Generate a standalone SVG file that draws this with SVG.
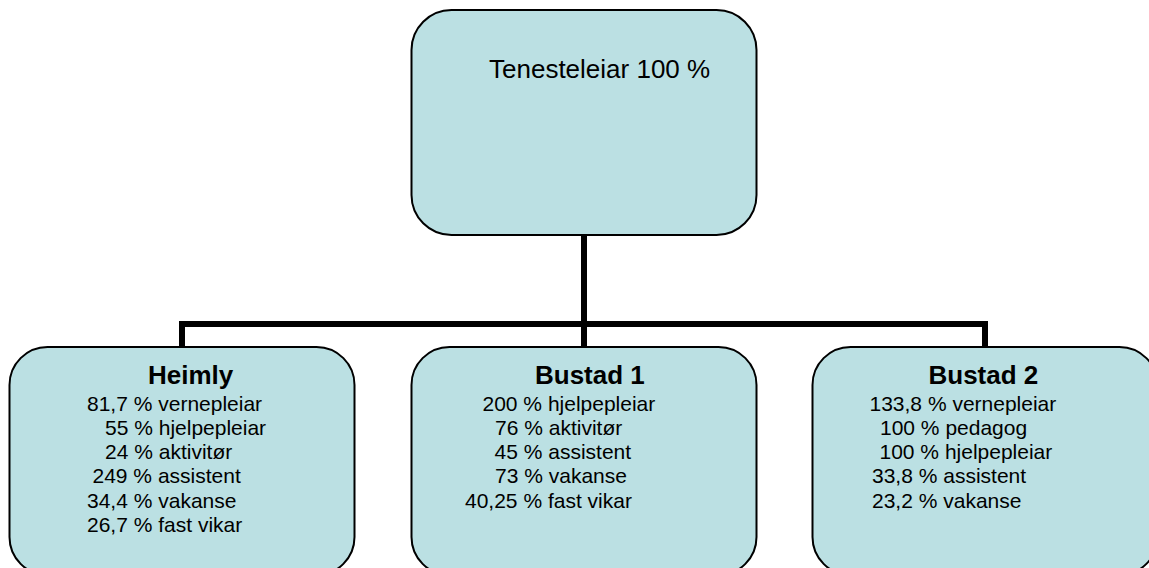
<svg xmlns="http://www.w3.org/2000/svg" width="1149" height="568" viewBox="0 0 1149 568">
<style>
.box{fill:#BBE0E3;stroke:#000;stroke-width:2}
.t{font-family:"Liberation Sans",Arial,sans-serif;font-size:21px;fill:#000}
.h{font-family:"Liberation Sans",Arial,sans-serif;font-size:26px;font-weight:bold;fill:#000}
.top{font-family:"Liberation Sans",Arial,sans-serif;font-size:26px;fill:#000}
.c{fill:none;stroke:#000;stroke-width:6;stroke-linejoin:miter;stroke-linecap:butt}
</style>
<rect width="1149" height="568" fill="#fff"/>
<g id="connectors">
<path class="c" d="M182,347 V324 H985 V347"/>
<path class="c" d="M584,235 V347"/>
</g>
<g id="tenesteleiar">
<rect class="box" x="411.5" y="10" width="345" height="225" rx="40" ry="40"/>
<text class="top" x="489" y="78">Tenesteleiar 100 %</text>
</g>
<g id="heimly">
<rect class="box" x="9.5" y="347" width="345" height="228" rx="38" ry="38"/>
<text class="h" x="148" y="384">Heimly</text>
<text class="t" x="87" y="410.5">81,7 % vernepleiar</text>
<text class="t" x="105" y="434.8">55 % hjelpepleiar</text>
<text class="t" x="105" y="459.1">24 % aktivitør</text>
<text class="t" x="92.5" y="483.4">249 % assistent</text>
<text class="t" x="87" y="507.7">34,4 % vakanse</text>
<text class="t" x="87" y="532">26,7 % fast vikar</text>
</g>
<g id="bustad1">
<rect class="box" x="411.5" y="347" width="345" height="228" rx="38" ry="38"/>
<text class="h" x="535" y="384">Bustad 1</text>
<text class="t" x="482.5" y="410.5">200 % hjelpepleiar</text>
<text class="t" x="495" y="434.8">76 % aktivitør</text>
<text class="t" x="494.5" y="459.1">45 % assistent</text>
<text class="t" x="495" y="483.4">73 % vakanse</text>
<text class="t" x="465" y="507.7">40,25 % fast vikar</text>
</g>
<g id="bustad2">
<rect class="box" x="812.5" y="347" width="345" height="228" rx="38" ry="38"/>
<text class="h" x="928.5" y="384">Bustad 2</text>
<text class="t" x="869.5" y="410.5">133,8 % vernepleiar</text>
<text class="t" x="880" y="434.8">100 % pedagog</text>
<text class="t" x="879.5" y="459.1">100 % hjelpepleiar</text>
<text class="t" x="872" y="483.4">33,8 % assistent</text>
<text class="t" x="872" y="507.7">23,2 % vakanse</text>
</g>
</svg>
